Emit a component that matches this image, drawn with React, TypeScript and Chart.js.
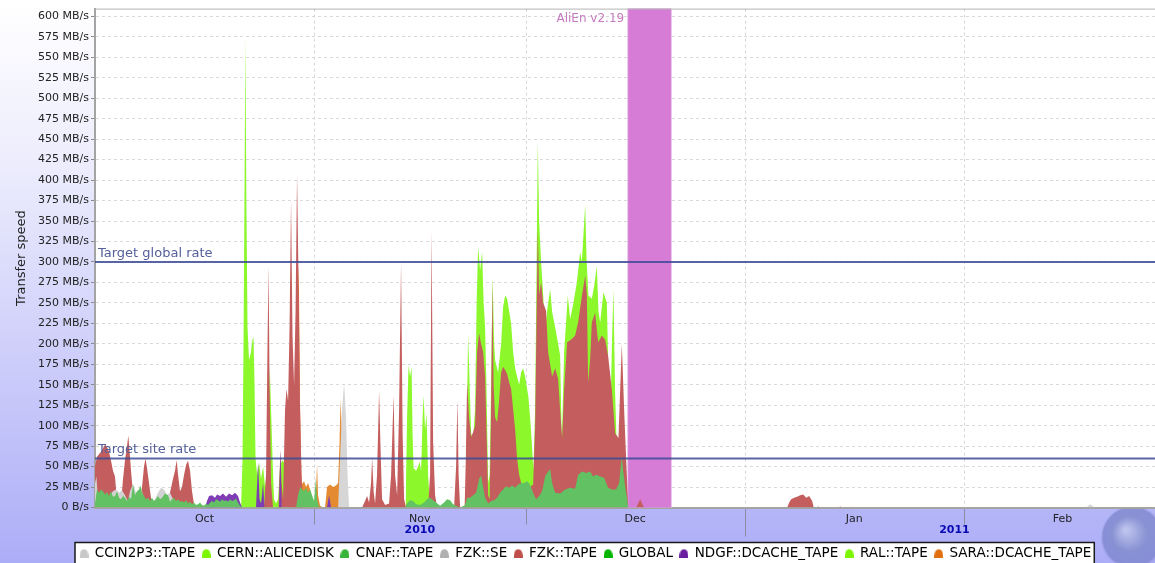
import React, { useEffect, useRef } from 'react';
import { Chart, registerables } from 'chart.js';

Chart.register(...registerables);

const FONT = '"DejaVu Sans", Verdana, sans-serif';

// ---- data: days since 1 Oct 2010 (x) and transfer rate in MB/s (y) ----
const ccin2p3Days = [0.00,0.21,0.42,0.99,1.56,2.12,2.55,2.97,3.40,3.82,4.25,4.67,4.96,5.38,5.81,6.23,6.52,6.94,7.37,7.79,8.36,8.92,9.35,9.77,10.20,10.62,11.05,11.47,12.04,12.75];
const ccin2p3Rate = [30,38,8,5,10,15,20,22,18,21,15,8,20,29,18,20,24,12,6,4,8,18,24,22,15,18,10,4,2,0];

const cernDays = [20.68,20.89,21.03,21.18,21.29,21.43,21.60,21.81,22.10,22.31,22.45,22.59,22.73,22.95,23.23,23.51,23.80,24.08,24.36,24.57,24.76,24.93,25.14,25.35,25.64,25.92,26.20,26.49,26.77,27.05,27.34,27.55];
const cernRate = [0,60,200,400,575,380,220,180,190,205,208,150,60,40,55,35,50,25,45,120,169,120,60,10,5,10,50,58,55,50,30,0];

const cnafDays = [0.00,0.28,0.57,0.85,1.13,1.42,1.70,1.98,2.27,2.55,2.83,3.12,3.40,3.68,3.97,4.25,4.53,4.82,5.10,5.38,5.67,5.95,6.23,6.44,6.66,6.94,7.22,7.51,7.79,8.07,8.36,8.64,8.92,9.21,9.49,9.92,10.34,10.62,10.91,11.19,11.47,11.76,12.04,12.32,12.61,12.89,13.17,13.46,13.74,14.02,14.31,14.59,14.87,15.16,15.44,15.72,16.01,16.29,16.57,16.86,17.14,17.42,17.71,17.99,18.27,18.56,18.84,19.12,19.41,19.69,19.97,20.25,20.54,20.82,
  28.47,28.75,29.04,29.32,29.60,29.89,30.17,30.45,30.74,31.02,31.27,31.44,31.73,
  43.91,44.19,44.62,45.04,45.47,46.03,46.60,47.02,47.45,47.88,48.30,48.87,49.43,49.86,50.28,50.71,51.13,51.70,
  52.41,52.69,53.12,53.54,53.97,54.39,54.67,54.96,55.24,55.67,56.09,56.52,56.94,57.36,57.79,58.22,58.64,59.07,59.49,59.92,60.34,60.76,61.19,61.61,62.04,62.46,62.89,63.31,63.74,64.02,64.45,64.73,65.16,65.86,66.57,67.28,67.99,68.41,68.98,69.55,70.11,70.54,70.96,71.53,72.10,72.66,73.22,73.79,74.22,74.60,74.79,75.07,75.35,75.50];
const cnafRate = [5,22,18,22,20,16,19,14,20,13,14,20,12,10,14,12,8,13,10,28,15,20,22,27,18,14,10,12,8,12,8,10,14,10,12,17,15,7,10,12,8,10,7,8,6,9,5,7,4,6,3,4,6,3,2,5,3,6,8,6,10,9,7,10,8,9,7,10,8,9,11,6,2,0,
  0,15,25,22,20,24,18,22,15,8,35,10,0,
  0,5,9,8,4,3,6,10,12,9,6,2,6,10,9,4,2,0,
  3,12,12,15,18,35,39,25,12,5,8,9,12,18,22,26,24,27,24,28,30,30,32,28,18,10,14,20,38,42,47,30,18,17,22,24,23,40,44,42,44,38,40,38,36,24,22,22,30,63,45,26,10,0];

const fzkSeDays = [34.42,34.70,34.99,35.27,35.55,35.76,35.98,140.37,140.93,141.50];
const fzkSeRate = [0,60,120,153,110,40,0,0,4,0];

const fzkTapeDays = [0.00,0.28,0.57,0.85,1.13,1.42,1.70,1.98,2.27,2.55,2.83,3.05,3.26,3.68,3.97,4.25,4.53,4.72,4.89,5.10,5.38,5.59,6.37,6.66,6.94,7.15,7.37,7.65,7.93,8.22,10.34,10.62,11.05,11.33,11.57,11.76,12.04,12.32,12.61,12.89,13.17,13.46,13.74,14.02,14.31,
  23.94,24.22,24.43,24.58,24.72,24.93,25.21,
  25.99,26.25,26.42,26.63,26.91,27.12,27.34,27.55,27.76,27.97,28.19,28.40,28.61,28.82,29.04,29.25,29.46,29.89,
  37.82,38.24,38.53,38.81,39.09,39.24,39.45,39.66,39.94,40.23,40.44,40.65,41.08,41.64,41.93,42.28,42.49,42.78,43.06,43.34,43.56,43.77,44.05,
  47.17,47.45,47.66,47.88,48.16,48.44,
  50.85,51.13,51.32,51.49,51.70,
  52.34,52.51,52.69,52.97,53.26,53.54,53.82,54.11,54.39,54.67,54.96,55.24,55.45,55.67,55.88,56.09,56.27,56.44,56.66,56.94,57.22,57.51,57.79,58.07,58.36,58.64,58.92,59.21,59.49,59.77,60.06,60.48,61.05,61.61,62.04,62.32,62.70,62.89,63.17,63.46,63.88,64.16,64.45,64.73,65.16,65.58,65.86,66.15,66.43,66.86,67.52,67.99,68.41,68.94,69.41,69.65,69.83,70.11,70.35,70.82,71.25,71.77,72.24,72.66,73.19,73.65,74.12,74.60,74.97,75.31,75.50,
  76.63,76.91,77.20,77.48,77.76,
  98.02,98.30,98.58,99.01,99.43,99.86,100.28,100.71,101.13,101.56,101.77,
  102.27,102.41,102.55,105.38,105.52,105.67,107.08,107.22,107.37];
const fzkTapeRate = [50,62,65,68,72,77,74,68,57,45,38,15,3,5,35,58,75,88,70,45,18,4,5,25,50,60,48,30,12,3,3,18,35,45,58,40,20,25,40,52,57,45,20,4,0,
  0,40,200,296,150,30,0,
  0,70,30,10,120,145,130,220,376,210,150,240,408,280,120,40,5,0,
  0,8,14,6,30,61,20,5,40,143,70,10,3,5,40,137,40,15,120,300,90,10,0,
  0,40,339,80,15,0,
  0,50,132,40,0,
  0,60,153,110,86,92,100,190,213,200,190,160,90,15,10,120,276,150,110,104,130,165,172,168,163,153,145,120,96,60,40,25,25,25,28,100,341,260,275,250,240,190,175,160,170,157,120,85,144,202,206,210,226,258,283,260,153,180,226,238,202,210,205,185,144,91,85,200,110,40,0,
  0,5,10,5,0,
  0,6,10,12,13,15,16,12,14,8,0,
  0,1.5,0,0,1.5,0,0,1,0];

const globalDays = [21.95,22.14,22.31];
const globalRate = [0,212,0];

const ndgfDays = [15.58,15.86,16.15,16.57,17.00,17.28,17.71,18.13,18.56,18.98,19.41,19.83,20.25,20.54,20.82,22.80,23.09,23.30,23.51,23.80,24.01,26.06,26.25,26.42,32.86,33.14,33.43];
const ndgfRate = [0,8,14,15,12,16,14,17,13,17,15,18,14,6,0,0,55,10,5,30,0,0,70,0,0,15,0];

const ralDays = [43.98,44.19,44.40,44.62,44.83,44.97,45.11,45.47,45.75,45.96,46.18,46.39,46.53,46.74,46.95,47.17,47.45,
  52.55,52.69,52.83,53.05,53.26,53.54,53.82,54.04,54.25,54.53,54.82,55.03,55.24,55.45,55.67,55.88,56.09,56.30,56.52,56.66,57.08,57.51,57.79,58.07,58.36,58.64,58.92,59.21,59.49,59.77,60.06,60.34,60.62,60.91,61.37,61.61,61.85,62.08,62.32,62.54,62.70,62.89,63.17,63.46,
  63.74,64.02,64.45,64.73,65.16,65.58,65.86,66.10,66.43,66.95,67.28,67.75,68.23,68.70,68.94,69.41,69.62,69.87,70.35,70.68,71.06,71.29,71.53,72.00,72.48,72.70,72.95,73.20,73.41,73.65,73.89,74.15,74.36];
const ralRate = [0,110,174,160,172,90,48,45,50,56,45,110,137,95,115,40,0,
  0,120,212,150,90,86,120,250,319,290,312,250,220,140,30,40,150,282,200,180,165,200,245,259,255,240,225,190,170,160,150,165,170,160,135,110,80,45,120,300,447,350,300,260,
  214,240,267,239,220,200,186,80,190,259,230,250,275,312,300,370,300,259,255,270,295,240,226,263,250,165,91,200,267,140,71,20,0];

const saraDays = [28.47,28.68,28.86,29.04,29.25,29.60,29.89,30.17,30.45,30.74,31.02,31.30,31.44,31.59,31.87,32.29,32.58,32.86,33.29,33.71,34.14,34.42,34.63,34.77,34.92,35.06,35.27];
const saraRate = [0,250,296,120,28,32,25,30,22,12,5,20,53,15,2,0,0,25,28,25,27,30,80,132,100,20,0];

const seriesLabels = ['CCIN2P3::TAPE','CERN::ALICEDISK','CNAF::TAPE','FZK::SE','FZK::TAPE','GLOBAL','NDGF::DCACHE_TAPE','RAL::TAPE','SARA::DCACHE_TAPE'];
const seriesDays = [ccin2p3Days, cernDays, cnafDays, fzkSeDays, fzkTapeDays, globalDays, ndgfDays, ralDays, saraDays];
const seriesRates = [ccin2p3Rate, cernRate, cnafRate, fzkSeRate, fzkTapeRate, globalRate, ndgfRate, ralRate, saraRate];
const fillColors = ['#d2d2d2','#8cf72a','#62c162','#d6d6d6','#c45e5e','#1fb51f','#7f3cb4','#8cf72a','#e48a30'];
const legendColors = ['#c8c8c8','#7cf500','#38b438','#b0b0b0','#c04e4a','#00b400','#6a1fa0','#7cf500','#e07010'];
const drawOrder = [2, 7, 1, 4, 5, 9, 3, 8, 6];

const yTickValues = [0,25,50,75,100,125,150,175,200,225,250,275,300,325,350,375,400,425,450,475,500,525,550,575,600];
const monthCenters = [15.5, 46, 76.5, 107.5, 137];
const monthLabels = ['Oct', 'Nov', 'Dec', 'Jan', 'Feb'];
const monthStarts = [31, 61, 92, 123];
const yearBoundary = 92;
const yearLabels = ['2010', '2011'];
const yearCenters = [46, 121.7];
const targetRates = [300, 60];
const targetLabels = ['Target global rate', 'Target site rate'];
const releaseStart = 75.5;
const releaseEnd = 81.55;
const releaseLabel = 'AliEn v2.19';

function makeMarker(color: string) {
  const c = document.createElement('canvas');
  c.width = 9; c.height = 9;
  const g = c.getContext('2d')!;
  g.fillStyle = color;
  g.beginPath();
  g.moveTo(0, 9);
  g.bezierCurveTo(0, 2.5, 2, 0.5, 4.5, 0.5);
  g.bezierCurveTo(7, 0.5, 9, 2.5, 9, 9);
  g.closePath();
  g.fill();
  return c;
}

const decorPlugin = {
  id: 'decor',
  beforeDraw(chart: any) {
    const { ctx, chartArea: a } = chart;
    const W = chart.width, H = chart.height;
    ctx.save();
    const g = ctx.createLinearGradient(0, 0, 0, 563);
    g.addColorStop(0, '#ffffff');
    g.addColorStop(0.3, '#ececfd');
    g.addColorStop(1, '#acadf7');
    ctx.fillStyle = g;
    ctx.fillRect(0, 0, W, H);
    ctx.fillStyle = '#ffffff';
    ctx.fillRect(a.left, 0, a.right - a.left, a.bottom);
    // globe decoration
    ctx.save();
    ctx.beginPath();
    ctx.rect(1100, a.bottom + 1, W - 1100, H);
    ctx.clip();
    const rg = ctx.createRadialGradient(1126, 530, 2, 1133, 538, 33);
    rg.addColorStop(0, 'rgba(190,196,235,0.9)');
    rg.addColorStop(0.5, 'rgba(130,140,205,0.85)');
    rg.addColorStop(0.88, 'rgba(120,128,200,0.7)');
    rg.addColorStop(1, 'rgba(170,172,240,0)');
    ctx.fillStyle = rg;
    ctx.beginPath();
    ctx.arc(1133, 538, 33, 0, Math.PI * 2);
    ctx.fill();
    ctx.restore();
    // legend frame
    const lg = chart.legend;
    if (lg && lg.lineWidths && lg.lineWidths.length) {
      const pad = 7, start = 80;
      const lw = lg.lineWidths[0];
      lg.left = 2 * start - pad - lg.right + lw;
      const bx = start - 5, bw = lw - pad + 8, by = lg.top + 3;
      ctx.fillStyle = '#ffffff';
      ctx.fillRect(bx, by, bw, 60);
      ctx.strokeStyle = '#1a1a1a';
      ctx.lineWidth = 1.5;
      ctx.strokeRect(bx, by, bw, 60);
    }
    ctx.restore();
  },
  beforeDatasetsDraw(chart: any) {
    const { ctx, chartArea: a, scales } = chart;
    const xs = scales.x;
    ctx.save();
    ctx.strokeStyle = '#d6d6d6';
    ctx.lineWidth = 1;
    ctx.setLineDash([3, 3]);
    monthStarts.forEach((d) => {
      const px = Math.round(xs.getPixelForValue(d)) + 0.5;
      ctx.beginPath();
      ctx.moveTo(px, a.top);
      ctx.lineTo(px, a.bottom);
      ctx.stroke();
    });
    ctx.setLineDash([]);
    const x1 = xs.getPixelForValue(releaseStart), x2 = xs.getPixelForValue(releaseEnd);
    ctx.fillStyle = '#e8c0e8';
    ctx.fillRect(x1 - 1, a.top, x2 - x1 + 2, a.bottom - a.top);
    ctx.fillStyle = '#d67cd6';
    ctx.fillRect(x1, a.top, x2 - x1, a.bottom - a.top);
    ctx.font = `12px ${FONT}`;
    ctx.fillStyle = '#c67ac0';
    ctx.textAlign = 'right';
    ctx.textBaseline = 'middle';
    ctx.fillText(releaseLabel, x1 - 4, a.top + 10);
    ctx.restore();
  },
  afterDatasetsDraw(chart: any) {
    const { ctx, chartArea: a, scales } = chart;
    const ys = scales.y;
    ctx.save();
    ctx.font = `13px ${FONT}`;
    ctx.textAlign = 'left';
    ctx.textBaseline = 'alphabetic';
    targetRates.forEach((r, i) => {
      const py = ys.getPixelForValue(r);
      ctx.strokeStyle = 'rgba(60,75,150,0.85)';
      ctx.lineWidth = 2;
      ctx.beginPath();
      ctx.moveTo(a.left, py);
      ctx.lineTo(a.right, py);
      ctx.stroke();
      ctx.fillStyle = '#55609a';
      ctx.fillText(targetLabels[i], a.left + 3, py - 5);
    });
    ctx.strokeStyle = '#b4b4b4';
    ctx.lineWidth = 1;
    ctx.beginPath();
    ctx.moveTo(a.left, a.top + 0.5);
    ctx.lineTo(a.right, a.top + 0.5);
    ctx.stroke();
    ctx.restore();
  },
  afterDraw(chart: any) {
    const { ctx, chartArea: a, scales } = chart;
    const xs = scales.x;
    ctx.save();
    ctx.strokeStyle = '#8c8ca2';
    ctx.lineWidth = 1;
    monthStarts.forEach((d) => {
      const px = Math.round(xs.getPixelForValue(d)) + 0.5;
      const len = d === yearBoundary ? 29 : 17;
      ctx.beginPath();
      ctx.moveTo(px, a.bottom + 1);
      ctx.lineTo(px, a.bottom + len);
      ctx.stroke();
    });
    ctx.font = `bold 11px ${FONT}`;
    ctx.fillStyle = '#0a0ab4';
    ctx.textAlign = 'center';
    ctx.textBaseline = 'middle';
    yearLabels.forEach((t, i) => ctx.fillText(t, xs.getPixelForValue(yearCenters[i]), a.bottom + 23));
    ctx.restore();
  },
};

export default function App() {
  const ref = useRef<HTMLCanvasElement>(null);
  useEffect(() => {
    const canvas = ref.current!;
    Chart.defaults.font.family = FONT;
    const markers = legendColors.map(makeMarker);
    const datasets = seriesLabels.map((label, i) => ({
      label,
      data: seriesDays[i].map((d, k) => ({ x: d, y: seriesRates[i][k] })),
      fill: 'origin',
      backgroundColor: fillColors[i],
      borderColor: fillColors[i],
      borderWidth: 0,
      pointRadius: 0,
      pointHoverRadius: 0,
      tension: 0,
      order: drawOrder[i],
    }));
    const chart = new Chart(canvas, {
      type: 'line',
      data: { datasets } as any,
      options: {
        animation: false,
        responsive: false,
        devicePixelRatio: 1,
        events: [],
        layout: { padding: { top: 7, left: 0, right: 0, bottom: 0 } },
        scales: {
          x: {
            type: 'linear',
            min: 0,
            max: 150.1,
            afterBuildTicks: (s: any) => { s.ticks = monthCenters.map((v) => ({ value: v })); },
            afterFit: (s: any) => { s.height = 32; },
            ticks: {
              autoSkip: false,
              maxRotation: 0,
              padding: 5,
              color: '#222222',
              font: { family: FONT, size: 11 },
              callback: (_v: any, i: number) => monthLabels[i],
            },
            grid: { display: false, drawTicks: false },
            border: { display: true, color: '#a4a4a4', width: 2 },
          },
          y: {
            min: 0,
            max: 609.5,
            afterBuildTicks: (s: any) => { s.ticks = yTickValues.map((v) => ({ value: v })); },
            afterFit: (s: any) => { s.width = 95; },
            ticks: {
              padding: 2,
              color: '#222222',
              font: { family: FONT, size: 11 },
              callback: (v: any) => (v === 0 ? '0 B/s' : `${v} MB/s`),
            },
            grid: {
              color: (c: any) => (c.tick && c.tick.value === 0 ? 'rgba(0,0,0,0)' : '#d9d9d9'),
              tickColor: '#8a8a8a',
              tickLength: 4,
              drawTicks: true,
              lineWidth: 1,
            },
            border: { display: true, color: '#a4a4a4', width: 2, dash: [3, 3] },
            title: {
              display: true,
              text: 'Transfer speed',
              color: '#222222',
              font: { family: FONT, size: 13 },
              padding: { top: 14, bottom: 0 },
            },
          },
        },
        plugins: {
          tooltip: { enabled: false },
          legend: {
            position: 'bottom',
            onClick: () => {},
            labels: {
              usePointStyle: true,
              pointStyleWidth: 8,
              padding: 7,
              color: '#000000',
              font: { family: FONT, size: 13.5 },
              generateLabels: (ch: any) =>
                ch.data.datasets.map((ds: any, i: number) => ({
                  text: ds.label,
                  fillStyle: legendColors[i],
                  strokeStyle: legendColors[i],
                  lineWidth: 0,
                  pointStyle: markers[i],
                  hidden: false,
                  datasetIndex: i,
                  fontColor: '#000000',
                })),
            },
          },
        },
      } as any,
      plugins: [decorPlugin as any],
    });
    return () => chart.destroy();
  }, []);

  return (
    <div style={{ position: 'fixed', left: 0, top: 0, width: 1155, height: 563, overflow: 'hidden', background: '#ffffff' }}>
      <canvas ref={ref} width={1155} height={570} style={{ display: 'block', width: 1155, height: 570 }} />
    </div>
  );
}
